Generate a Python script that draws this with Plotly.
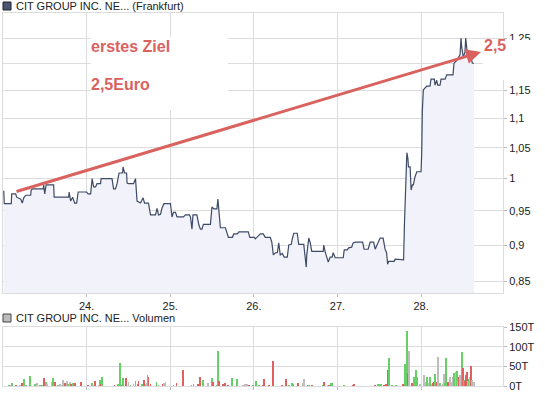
import math
import plotly.graph_objects as go

# ---------------- data ----------------
price_t = [23.009, 23.015, 23.099, 23.104, 23.152, 23.164, 23.212, 23.230, 23.248, 23.272,
           23.331, 23.337, 23.355, 23.481, 23.487, 23.499, 23.516, 23.606, 23.612, 23.785,
           23.791, 23.809, 23.833, 23.857, 23.881, 23.899, 24.000, 24.018, 24.048, 24.066,
           24.084, 24.107, 24.125, 24.167, 24.173, 24.304, 24.322, 24.346, 24.364, 24.388,
           24.430, 24.436, 24.454, 24.478, 24.484, 24.501, 24.561, 24.585, 24.603, 24.645,
           24.675, 24.693, 24.740, 24.764, 24.824, 24.842, 24.860, 24.884, 24.901, 24.925,
           25.003, 25.021, 25.039, 25.063, 25.081, 25.158, 25.182, 25.230, 25.242, 25.260,
           25.272, 25.319, 25.343, 25.361, 25.379, 25.397, 25.481, 25.499, 25.522, 25.558,
           25.570, 25.588, 25.600, 25.660, 25.696, 25.743, 25.761, 25.803, 25.821, 25.934,
           25.952, 26.006, 26.018, 26.036, 26.078, 26.113, 26.137, 26.197, 26.215, 26.233,
           26.257, 26.281, 26.298, 26.316, 26.340, 26.364, 26.400, 26.418, 26.448, 26.460,
           26.478, 26.519, 26.537, 26.597, 26.615, 26.627, 26.633, 26.657, 26.675, 26.693,
           26.830, 26.836, 26.854, 26.890, 26.913, 26.937, 26.949, 26.973, 27.069, 27.081,
           27.116, 27.134, 27.170, 27.188, 27.212, 27.301, 27.319, 27.367, 27.391, 27.433,
           27.451, 27.469, 27.487, 27.510, 27.546, 27.558, 27.570, 27.588, 27.600, 27.612,
           27.678, 27.690, 27.773, 27.791, 27.801, 27.818, 27.830, 27.842, 27.849, 27.869,
           27.881, 27.896, 27.908, 27.928, 27.949, 28.000, 28.008, 28.015, 28.027, 28.048,
           28.068, 28.107, 28.119, 28.159, 28.167, 28.187, 28.199, 28.227, 28.239, 28.287,
           28.307, 28.382, 28.394, 28.430, 28.466, 28.478, 28.486, 28.505, 28.525, 28.534,
           28.546, 28.558, 28.573, 28.597, 28.613, 28.633]
price_v = [0.981, 0.961, 0.961, 0.976, 0.976, 0.971, 0.968, 0.962, 0.970, 0.974,
           0.974, 0.982, 0.984, 0.984, 0.990, 0.976, 0.990, 0.990, 0.971, 0.971,
           0.979, 0.965, 0.971, 0.962, 0.962, 0.979, 0.979, 0.976, 0.976, 1.000,
           0.987, 0.987, 0.992, 0.992, 1.000, 1.000, 0.984, 0.984, 0.992, 1.009,
           1.009, 1.019, 1.009, 1.009, 0.993, 0.992, 0.992, 1.000, 0.965, 0.962,
           0.970, 0.962, 0.962, 0.944, 0.944, 0.954, 0.944, 0.945, 0.954, 0.961,
           0.961, 0.941, 0.948, 0.948, 0.941, 0.941, 0.944, 0.944, 0.941, 0.923,
           0.944, 0.944, 0.929, 0.923, 0.923, 0.930, 0.930, 0.956, 0.953, 0.953,
           0.968, 0.946, 0.925, 0.925, 0.911, 0.911, 0.916, 0.916, 0.919, 0.919,
           0.911, 0.911, 0.909, 0.911, 0.916, 0.916, 0.911, 0.911, 0.904, 0.886,
           0.889, 0.889, 0.903, 0.886, 0.888, 0.883, 0.883, 0.900, 0.901, 0.909,
           0.917, 0.917, 0.901, 0.901, 0.886, 0.869, 0.886, 0.910, 0.903, 0.891,
           0.891, 0.900, 0.890, 0.876, 0.883, 0.883, 0.889, 0.882, 0.882, 0.893,
           0.893, 0.896, 0.897, 0.903, 0.904, 0.904, 0.894, 0.894, 0.904, 0.904,
           0.894, 0.899, 0.903, 0.910, 0.910, 0.903, 0.894, 0.889, 0.873, 0.877,
           0.877, 0.880, 0.880, 0.879, 0.929, 1.011, 1.042, 1.033, 1.019, 1.019,
           0.982, 0.990, 0.990, 1.003, 1.011, 1.011, 1.043, 1.111, 1.151, 1.155,
           1.158, 1.158, 1.171, 1.171, 1.160, 1.169, 1.160, 1.160, 1.171, 1.171,
           1.179, 1.179, 1.201, 1.207, 1.217, 1.250, 1.232, 1.213, 1.222, 1.250,
           1.226, 1.213, 1.220, 1.213, 1.201, 1.201]

# volume in thousands (T); direction: u = up (green), d = down (red), n = unchanged (grey)
vol_t = [23.069, 23.093, 23.104, 23.152, 23.200, 23.224, 23.248, 23.272, 23.319, 23.379,
         23.403, 23.439, 23.463, 23.487, 23.510, 23.522, 23.582, 23.594, 23.618, 23.654,
         23.678, 23.701, 23.713, 23.737, 23.761, 23.773, 23.797, 23.809, 23.833, 23.857,
         23.928, 24.012, 24.060, 24.072, 24.096, 24.143, 24.155, 24.167, 24.179, 24.334,
         24.370, 24.394, 24.418, 24.430, 24.466, 24.501, 24.525, 24.561, 24.585, 24.609,
         24.621, 24.657, 24.681, 24.704, 24.716, 24.728, 24.740, 24.764, 24.836, 24.860,
         24.919, 24.931, 24.943, 25.039, 25.075, 25.158, 25.254, 25.278, 25.337, 25.361,
         25.397, 25.457, 25.504, 25.516, 25.564, 25.576, 25.588, 25.636, 25.660, 25.696,
         25.743, 25.803, 25.875, 25.899, 25.922, 25.946, 25.994, 26.030, 26.066, 26.113,
         26.125, 26.185, 26.233, 26.340, 26.388, 26.424, 26.460, 26.472, 26.531, 26.591,
         26.603, 26.651, 26.663, 26.699, 26.830, 26.842, 26.890, 26.901, 26.925, 26.937,
         27.081, 27.188, 27.200, 27.451, 27.487, 27.499, 27.522, 27.558, 27.582, 27.606,
         27.618, 27.654, 27.701, 27.785, 27.809, 27.833, 27.845, 27.857, 27.893, 27.916,
         27.940, 27.952, 27.988, 28.036, 28.060, 28.072, 28.096, 28.107, 28.131, 28.143,
         28.155, 28.167, 28.191, 28.203, 28.227, 28.239, 28.263, 28.275, 28.287, 28.299,
         28.322, 28.346, 28.370, 28.382, 28.394, 28.418, 28.430, 28.442, 28.454, 28.466,
         28.490, 28.501, 28.513, 28.525, 28.537, 28.549, 28.561, 28.573, 28.585, 28.597,
         28.609, 28.633]
vol_v = [2.5, 2, 7, 2.5, 2, 7, 19, 2, 25, 3,
         7, 2, 2.5, 21, 9, 3, 9, 21, 11, 2.5,
         4, 2, 15, 8, 12.5, 4, 9, 4, 8, 8,
         11, 2.5, 7, 2, 13, 2.5, 15, 3, 22.5, 2.5,
         5, 58, 2.5, 21, 21, 11, 2, 5, 12.5, 4,
         12.5, 5, 15, 4, 8, 27.5, 23, 5, 11, 2,
         4, 8, 11, 2.5, 8, 40, 2.5, 5, 4, 23,
         15, 8, 21, 11, 2.5, 90, 12.5, 4, 8, 2.5,
         21, 17.5, 2.5, 5, 5, 2.5, 2.5, 12.5, 2.5, 2.5,
         17.5, 2.5, 62.5, 2.5, 17.5, 2.5, 7, 5, 7, 7,
         17.5, 2.5, 2.5, 2.5, 2.5, 9, 2.5, 2.5, 7, 7,
         2.5, 2.5, 5, 2.5, 5, 5, 5, 2.5, 5, 40,
         72, 2.5, 2.5, 5, 57, 140, 32, 90, 7, 23,
         40, 23, 3, 27.5, 11, 23, 7, 23, 5, 7,
         11, 30, 11, 75, 7, 2.5, 5, 30, 7, 71,
         11, 23, 11, 23, 32, 36, 37.5, 12.5, 23, 27.5,
         87.5, 46, 15, 12.5, 27.5, 36, 12.5, 19, 23, 51,
         15, 11]
vol_dir = ["u", "n", "u", "d", "n", "d", "u", "u", "u", "u",
           "n", "u", "u", "d", "u", "n", "n", "u", "d", "u",
           "n", "n", "n", "d", "n", "u", "n", "d", "u", "d",
           "d", "d", "u", "n", "d", "n", "u", "d", "u", "d",
           "u", "u", "d", "u", "d", "n", "u", "n", "u", "d",
           "d", "u", "d", "n", "n", "u", "d", "d", "u", "u",
           "d", "n", "n", "u", "d", "d", "u", "u", "d", "d",
           "u", "n", "u", "d", "u", "u", "d", "d", "d", "d",
           "u", "u", "n", "n", "n", "d", "u", "u", "u", "d",
           "d", "d", "d", "d", "d", "u", "u", "u", "d", "n",
           "n", "u", "u", "d", "u", "d", "n", "d", "u", "u",
           "u", "d", "d", "d", "u", "u", "u", "d", "d", "d",
           "u", "u", "u", "d", "u", "u", "d", "n", "d", "u",
           "u", "u", "n", "n", "n", "u", "n", "u", "n", "d",
           "d", "u", "d", "n", "u", "n", "n", "n", "u", "u",
           "d", "n", "n", "n", "u", "n", "u", "n", "d", "n",
           "u", "d", "u", "d", "d", "d", "n", "u", "n", "d",
           "n", "n"]

day_ticks = [24, 25, 26, 27, 28]
day_labels = ["24.", "25.", "26.", "27.", "28."]
price_ticks = [0.85, 0.9, 0.95, 1.0, 1.05, 1.1, 1.15, 1.2, 1.25]
price_labels = ["0,85", "0,9", "0,95", "1", "1,05", "1,1", "1,15", "1,2", "1,25"]
vol_ticks = [0, 50, 100, 150]
vol_labels = ["0T", "50T", "100T", "150T"]

# ---------------- styling ----------------
W, H = 545, 395
ML, MR, MT, MB = 3, 42, 13, 9
PW, PH = W - ML - MR, H - MT - MB
RED = "#d9625f"
LINE = "#3e4a66"
GRID = "#dcdcdc"
FONT = "Liberation Sans"
dir_colors = {"u": "#66d066", "d": "#e06060", "n": "#bdbdbd"}


def px_x(p):
    return (p - ML) / PW


def px_y(p):
    return (H - MB - p) / PH


x_range = [23.0, 28.98]
y_range = [math.log10(0.834), math.log10(1.3007)]
baseline = 10 ** (y_range[0] - 0.05)

fig = go.Figure()
fig.add_trace(go.Scatter(x=[price_t[0], price_t[-1]], y=[baseline, baseline],
                         mode="lines", line=dict(width=0), hoverinfo="skip",
                         showlegend=False, xaxis="x", yaxis="y"))
fig.add_trace(go.Scatter(x=price_t, y=price_v, mode="lines",
                         line=dict(color=LINE, width=1.2),
                         fill="tonexty", fillcolor="#f2f3fa",
                         showlegend=False, xaxis="x", yaxis="y"))
fig.add_trace(go.Bar(x=vol_t, y=vol_v, width=0.011,
                     marker=dict(color=[dir_colors[d] for d in vol_dir], line=dict(width=0)),
                     showlegend=False, xaxis="x2", yaxis="y2"))

top_dom = [px_y(293), 1.0]
vol_dom = [0.0, px_y(327)]

axis_common = dict(showgrid=True, gridcolor=GRID, gridwidth=1, showline=True,
                   linecolor=GRID, linewidth=1, mirror=True, zeroline=False,
                   ticks="outside", ticklen=3, tickcolor="#bbbbbb", automargin=False,
                   tickfont=dict(family=FONT, size=11, color="#222222"))

fig.update_layout(
    width=W, height=H,
    margin=dict(l=ML, r=MR, t=MT, b=MB, autoexpand=False),
    paper_bgcolor="white", plot_bgcolor="white",
    font=dict(family=FONT, size=11, color="#222222"),
    showlegend=False, bargap=0,
    xaxis=dict(domain=[0, 1], range=x_range, tickvals=day_ticks, ticktext=day_labels,
               anchor="y", **axis_common),
    yaxis=dict(domain=top_dom, type="log", range=y_range, side="right",
               tickvals=price_ticks, ticktext=price_labels, anchor="x", **axis_common),
    xaxis2=dict(domain=[0, 1], range=x_range, tickvals=day_ticks, showticklabels=False,
                anchor="y2", **axis_common),
    yaxis2=dict(domain=vol_dom, range=[0, 150], side="right",
                tickvals=vol_ticks, ticktext=vol_labels, anchor="x2", **axis_common),
)

shapes = [
    dict(type="rect", xref="paper", yref="paper", layer="above",
         x0=px_x(91), x1=px_x(228), y0=px_y(110), y1=px_y(37),
         fillcolor="white", line=dict(width=0)),
    dict(type="rect", xref="paper", yref="paper", layer="above",
         x0=px_x(483), x1=px_x(545), y0=px_y(80), y1=px_y(40),
         fillcolor="white", line=dict(width=0)),
    dict(type="rect", xref="paper", yref="paper", layer="above",
         x0=px_x(3), x1=px_x(11), y0=px_y(10), y1=px_y(2),
         fillcolor="#4b5675", line=dict(color="#222222", width=1)),
    dict(type="rect", xref="paper", yref="paper", layer="above",
         x0=px_x(3), x1=px_x(11), y0=px_y(322), y1=px_y(314),
         fillcolor="#bdbdbd", line=dict(color="#444444", width=1)),
]
fig.update_layout(shapes=shapes)

annotations = [
    dict(text="CIT GROUP INC. NE... (Frankfurt)", xref="paper", yref="paper",
         x=px_x(14), y=px_y(6), xanchor="left", yanchor="middle", showarrow=False,
         font=dict(family=FONT, size=11, color="#222222")),
    dict(text="CIT GROUP INC. NE... Volumen", xref="paper", yref="paper",
         x=px_x(14), y=px_y(318), xanchor="left", yanchor="middle", showarrow=False,
         font=dict(family=FONT, size=11, color="#222222")),
    dict(text="<b>erstes Ziel</b>", xref="paper", yref="paper",
         x=px_x(89), y=px_y(47), xanchor="left", yanchor="middle", showarrow=False,
         font=dict(family=FONT, size=16, color=RED)),
    dict(text="<b>2,5Euro</b>", xref="paper", yref="paper",
         x=px_x(89), y=px_y(84), xanchor="left", yanchor="middle", showarrow=False,
         font=dict(family=FONT, size=16, color=RED)),
    dict(text="<b>2,5</b>", xref="paper", yref="paper",
         x=px_x(482), y=px_y(46), xanchor="left", yanchor="middle", showarrow=False,
         font=dict(family=FONT, size=16, color=RED)),
    dict(text="", xref="paper", yref="paper", x=px_x(481), y=px_y(52),
         ax=-466, ay=140, showarrow=True, arrowhead=2, arrowsize=1,
         arrowwidth=3, arrowcolor=RED, standoff=0),
]
fig.update_layout(annotations=annotations)

fig.write_html("out.html", config={"displayModeBar": False},
               post_script="document.body.style.margin='0';document.body.style.overflow='hidden';")
